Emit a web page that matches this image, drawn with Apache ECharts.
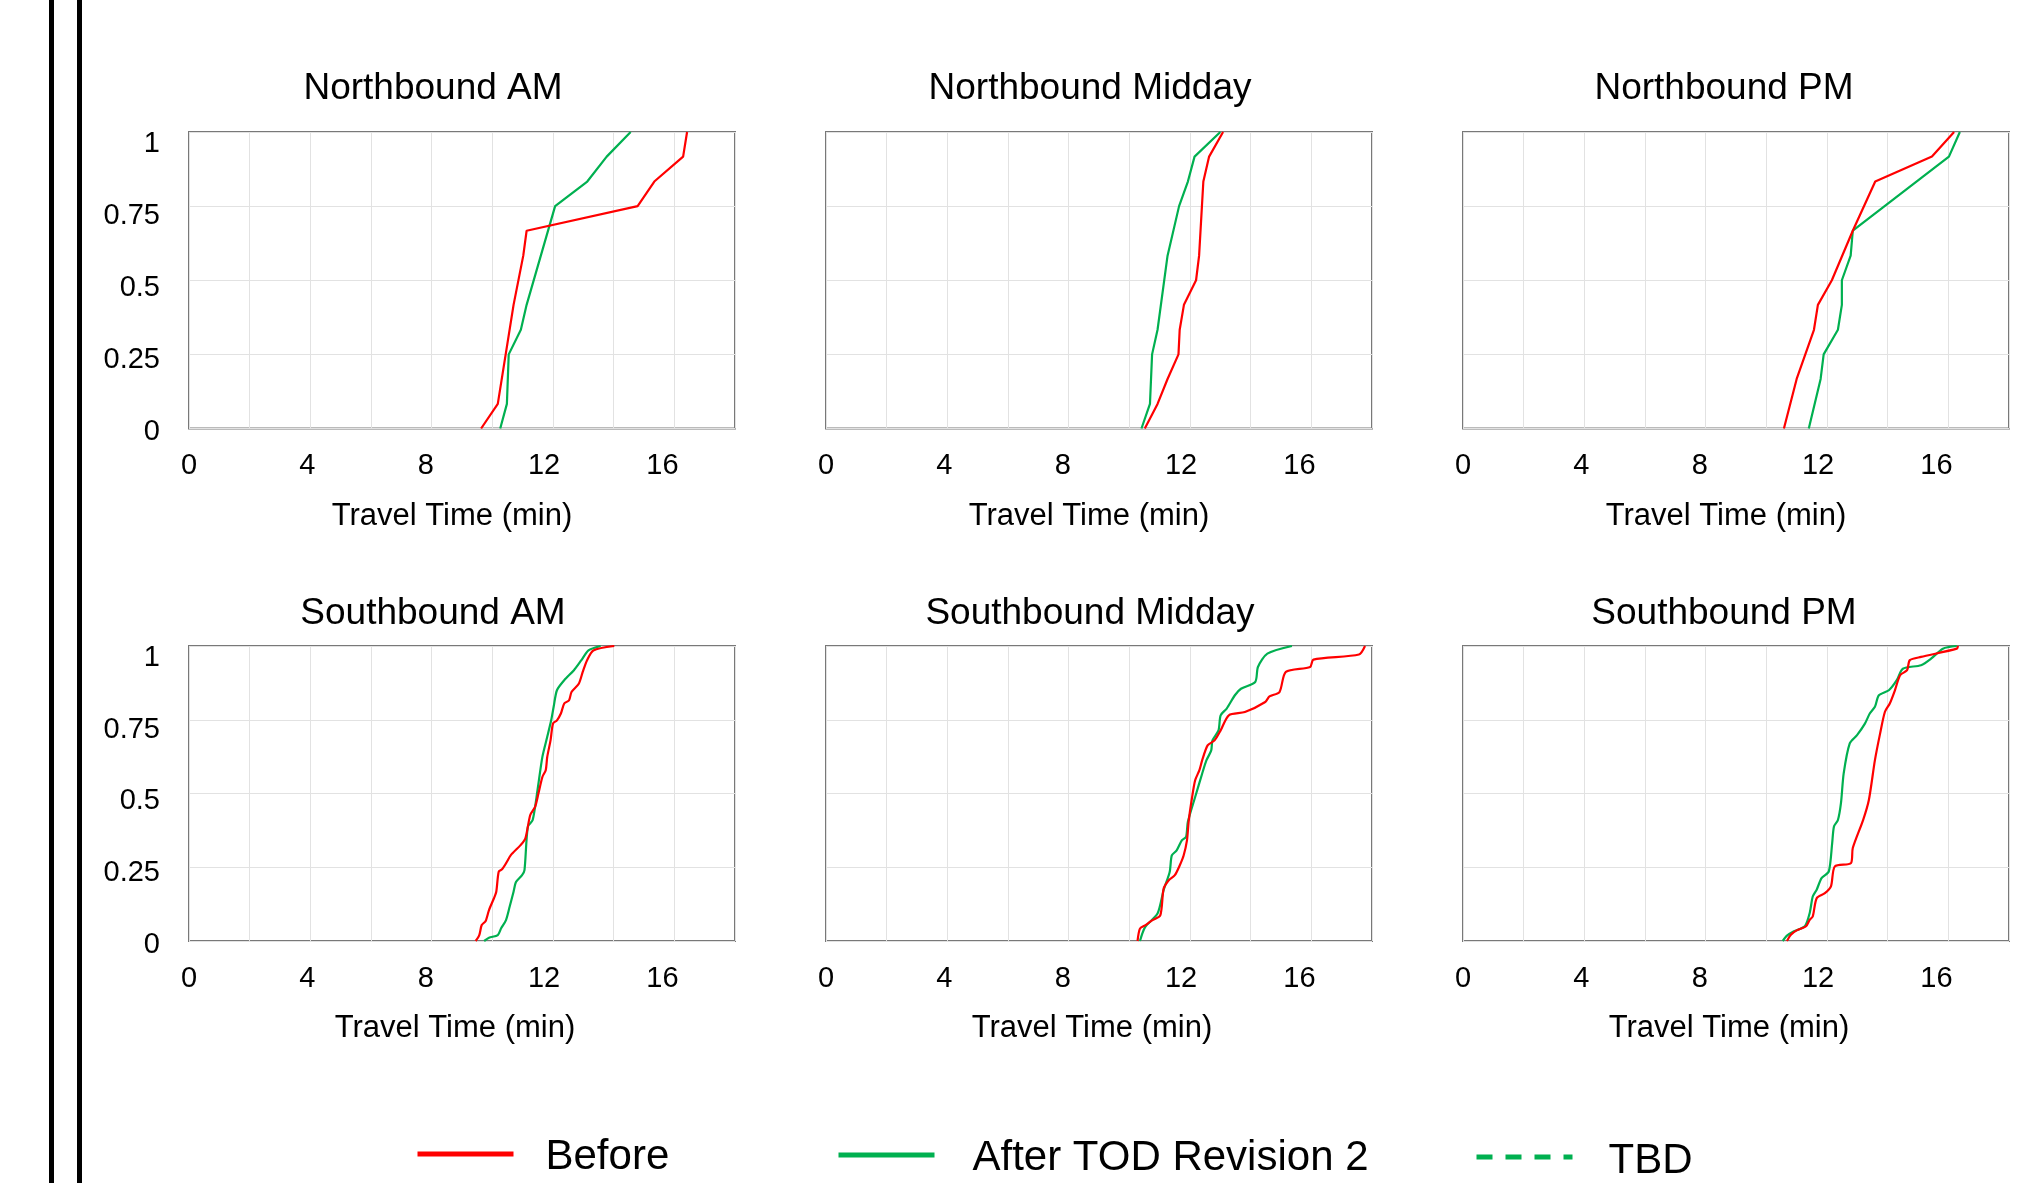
<!DOCTYPE html>
<html>
<head>
<meta charset="utf-8">
<script src="https://cdn.jsdelivr.net/npm/echarts@6/dist/echarts.min.js"></script>
<style>
html,body{margin:0;padding:0;background:#fff;}
#chart{width:2030px;height:1183px;}
</style>
</head>
<body>
<div id="chart"></div>
<script>
// ---------------- data ----------------
const panelTitles = ['Northbound AM', 'Northbound Midday', 'Northbound PM',
                     'Southbound AM', 'Southbound Midday', 'Southbound PM'];
const seriesNames = ['Before', 'After TOD Revision 2', 'TBD'];
const xAxisTitle = 'Travel Time (min)';
const xTickLabels = [0, 4, 8, 12, 16];
const yTickLabels = [0, 0.25, 0.5, 0.75, 1];

// [travel time (min), cumulative share]
const nbAmBefore = [[9.63,0],[10.18,0.083],[10.70,0.417],[11.02,0.583],[11.13,0.667],[14.79,0.75],[15.34,0.833],[16.29,0.917],[16.42,1]];
const nbAmAfter  = [[10.26,0],[10.48,0.083],[10.54,0.25],[10.94,0.333],[11.13,0.417],[12.07,0.75],[13.13,0.833],[13.77,0.917],[14.56,1]];

const nbMidBefore = [[10.51,0],[10.93,0.083],[11.26,0.167],[11.62,0.25],[11.66,0.333],[11.80,0.417],[12.20,0.5],[12.30,0.583],[12.44,0.833],[12.63,0.917],[13.09,1]];
const nbMidAfter  = [[10.40,0],[10.68,0.083],[10.75,0.25],[10.93,0.333],[11.26,0.583],[11.64,0.75],[11.93,0.833],[12.15,0.917],[13.0,1]];

const nbPmBefore = [[10.58,0],[11.0,0.167],[11.57,0.333],[11.70,0.417],[12.16,0.5],[12.85,0.667],[13.59,0.833],[15.46,0.917],[16.19,1]];
const nbPmAfter  = [[11.40,0],[11.79,0.167],[11.89,0.25],[12.36,0.333],[12.49,0.417],[12.49,0.5],[12.78,0.583],[12.85,0.667],[16.02,0.917],[16.38,1]];

const sbAmBefore = [[9.45,0],[9.57,0.02],[9.65,0.054],[9.78,0.068],[9.89,0.105],[10.05,0.144],[10.13,0.167],[10.21,0.235],[10.32,0.243],[10.45,0.263],[10.61,0.291],[10.93,0.325],[11.09,0.348],[11.25,0.427],[11.41,0.455],[11.52,0.5],[11.65,0.556],[11.76,0.579],[11.81,0.624],[11.92,0.681],[12.0,0.737],[12.13,0.748],[12.26,0.771],[12.37,0.805],[12.53,0.816],[12.61,0.844],[12.85,0.872],[12.98,0.912],[13.12,0.951],[13.33,0.985],[14.02,1]];
const sbAmAfter  = [[9.73,0],[9.89,0.011],[10.18,0.02],[10.29,0.043],[10.45,0.071],[10.57,0.116],[10.70,0.167],[10.78,0.2],[10.98,0.223],[11.06,0.24],[11.17,0.387],[11.33,0.41],[11.49,0.512],[11.65,0.624],[11.81,0.692],[11.94,0.748],[12.02,0.793],[12.13,0.85],[12.37,0.884],[12.69,0.918],[12.93,0.951],[13.17,0.985],[13.57,1]];

const sbMidBefore = [[10.27,0],[10.35,0.042],[10.52,0.053],[10.75,0.07],[11.02,0.087],[11.13,0.177],[11.30,0.206],[11.50,0.223],[11.66,0.256],[11.79,0.29],[11.90,0.341],[11.96,0.409],[12.07,0.488],[12.17,0.545],[12.31,0.579],[12.40,0.612],[12.58,0.663],[12.81,0.68],[13.01,0.714],[13.28,0.765],[13.81,0.776],[14.48,0.81],[14.62,0.829],[14.95,0.844],[15.16,0.912],[15.96,0.929],[16.07,0.954],[17.57,0.971],[17.77,1]];
const sbMidAfter  = [[10.35,0],[10.52,0.047],[10.93,0.093],[11.13,0.172],[11.33,0.234],[11.40,0.29],[11.56,0.307],[11.73,0.341],[11.87,0.353],[11.93,0.404],[12.17,0.488],[12.40,0.567],[12.54,0.612],[12.70,0.646],[12.74,0.68],[12.94,0.714],[13.01,0.765],[13.21,0.788],[13.48,0.833],[13.68,0.855],[14.15,0.878],[14.24,0.929],[14.55,0.974],[15.36,1]];

const sbPmBefore = [[10.68,0],[10.81,0.021],[11.0,0.036],[11.31,0.05],[11.43,0.072],[11.53,0.083],[11.66,0.145],[11.93,0.162],[12.13,0.185],[12.26,0.253],[12.79,0.264],[12.85,0.315],[13.19,0.41],[13.38,0.478],[13.58,0.613],[13.75,0.703],[13.91,0.777],[14.07,0.805],[14.24,0.85],[14.41,0.901],[14.64,0.918],[14.73,0.952],[15.10,0.963],[16.28,0.991],[16.32,1]];
const sbPmAfter  = [[10.54,0],[10.68,0.018],[10.91,0.033],[11.27,0.05],[11.43,0.095],[11.53,0.151],[11.66,0.174],[11.82,0.213],[12.06,0.236],[12.17,0.331],[12.23,0.388],[12.36,0.41],[12.46,0.467],[12.55,0.568],[12.75,0.67],[12.99,0.698],[13.25,0.737],[13.41,0.771],[13.58,0.794],[13.71,0.833],[14.04,0.85],[14.30,0.884],[14.50,0.923],[15.10,0.935],[15.43,0.957],[15.82,0.991],[16.28,1]];

const beforeSets = [nbAmBefore, nbMidBefore, nbPmBefore, sbAmBefore, sbMidBefore, sbPmBefore];
const afterSets  = [nbAmAfter, nbMidAfter, nbPmAfter, sbAmAfter, sbMidAfter, sbPmAfter];

// ---------------- layout / style ----------------
const FONT = "'Liberation Sans', Arial, Helvetica, sans-serif";
const RED = '#FF0000', GREEN = '#00B050';
const colLeft = [189, 826, 1463];
const colTitleX = [433, 1090, 1724];
const rowTop = [132, 646];
const rowHeight = [296.5, 295];
const rowTitleY = [89, 614];
const plotWidth = 546;
const smoothByRow = [false, 0.25];

const grids = [], xAxes = [], yAxes = [], series = [], graphics = [];

for (let i = 0; i < 6; i++) {
  const r = Math.floor(i / 3), c = i % 3;
  grids.push({
    left: colLeft[c], top: rowTop[r], width: plotWidth, height: rowHeight[r],
    show: true, borderColor: '#787878', borderWidth: 2, backgroundColor: '#fff',
    containLabel: false, outerBoundsMode: 'none'
  });
  // primary (data + gridlines)
  xAxes.push({
    type: 'value', gridIndex: i, position: 'top', min: 0, max: 18, interval: 2,
    axisLine: {show: false}, axisTick: {show: false}, axisLabel: {show: false},
    splitLine: {show: true, lineStyle: {color: '#e2e2e2', width: 1}}
  });
  // label axis
  xAxes.push({
    type: 'value', gridIndex: i, position: 'bottom', min: 0, max: 18.45, interval: 4,
    axisLine: {show: false}, axisTick: {show: false}, splitLine: {show: false},
    axisLabel: {
      show: true, margin: 23, fontSize: 29, color: '#000', fontFamily: FONT,
      formatter: v => xTickLabels.indexOf(v) >= 0 ? String(v) : ''
    },
    name: xAxisTitle, nameLocation: 'middle', nameGap: 72,
    nameTextStyle: {fontSize: 31, color: '#000', fontFamily: FONT, padding: [0, r === 0 ? 20 : 14, 0, 0]}
  });
  yAxes.push({
    type: 'value', gridIndex: i, position: 'right', min: 0, max: 1, interval: 0.25,
    axisLine: {show: false}, axisTick: {show: false}, axisLabel: {show: false},
    splitLine: {show: true, lineStyle: {color: '#e2e2e2', width: 1}}
  });
  yAxes.push({
    type: 'value', gridIndex: i, position: 'left', min: 0, max: 1.03, interval: 0.25,
    axisLine: {show: false}, axisTick: {show: false}, splitLine: {show: false},
    axisLabel: {
      show: c === 0, margin: 29, fontSize: 29, color: '#000', fontFamily: FONT,
      formatter: v => yTickLabels.indexOf(v) >= 0 ? '{p|' + v + '}' : '',
      rich: {p: {fontSize: 29, color: '#000', fontFamily: FONT, padding: [7, 0, 0, 0]}}
    }
  });
  series.push({
    name: seriesNames[0], type: 'line', xAxisIndex: 2 * i, yAxisIndex: 2 * i,
    data: beforeSets[i], symbol: 'none', smooth: smoothByRow[r],
    lineStyle: {color: RED, width: 2.2}, itemStyle: {color: RED}, z: 3
  });
  series.push({
    name: seriesNames[1], type: 'line', xAxisIndex: 2 * i, yAxisIndex: 2 * i,
    data: afterSets[i], symbol: 'none', smooth: smoothByRow[r],
    lineStyle: {color: GREEN, width: 2.2}, itemStyle: {color: GREEN}, z: 2
  });
  graphics.push({
    type: 'text', x: colTitleX[c], y: rowTitleY[r], silent: true,
    style: {text: panelTitles[i], font: '37px ' + FONT, fill: '#000',
            align: 'center', verticalAlign: 'middle', textAlign: 'center', textVerticalAlign: 'middle'}
  });
}
// TBD series (no data, legend only)
series.push({
  name: seriesNames[2], type: 'line', xAxisIndex: 0, yAxisIndex: 0, data: [],
  symbol: 'none', lineStyle: {color: GREEN, width: 5, type: [16, 13]}, itemStyle: {color: GREEN}
});

// double vertical rule on the left
graphics.push({type: 'rect', shape: {x: 49, y: 0, width: 5, height: 1183}, style: {fill: '#000'}, silent: true});
graphics.push({type: 'rect', shape: {x: 77, y: 0, width: 5, height: 1183}, style: {fill: '#000'}, silent: true});

function legendFor(name, left, top, gap, drop) {
  return {
    data: [name], left: left, top: top, orient: 'horizontal', padding: 0,
    itemWidth: 96, itemHeight: 42, selectedMode: false,
    itemStyle: {opacity: 0, color: 'rgba(0,0,0,0)', borderWidth: 0},
    lineStyle: {width: 5},
    formatter: n => '{t|' + n + '}',
    textStyle: {
      fontSize: 42, color: '#000', fontFamily: FONT,
      rich: {t: {fontSize: 42, color: '#000', fontFamily: FONT, padding: [drop, 0, 0, gap]}}
    }
  };
}

const option = {
  backgroundColor: '#fff',
  animation: false,
  grid: grids,
  xAxis: xAxes,
  yAxis: yAxes,
  series: series,
  legend: [
    legendFor(seriesNames[0], 415, 1136, 27, 6),
    legendFor(seriesNames[1], 836, 1137, 33, 6),
    legendFor(seriesNames[2], 1474, 1140, 31, 8)
  ],
  graphic: graphics
};

const chart = echarts.init(document.getElementById('chart'), null, {renderer: 'canvas'});
chart.setOption(option);
</script>
</body>
</html>
